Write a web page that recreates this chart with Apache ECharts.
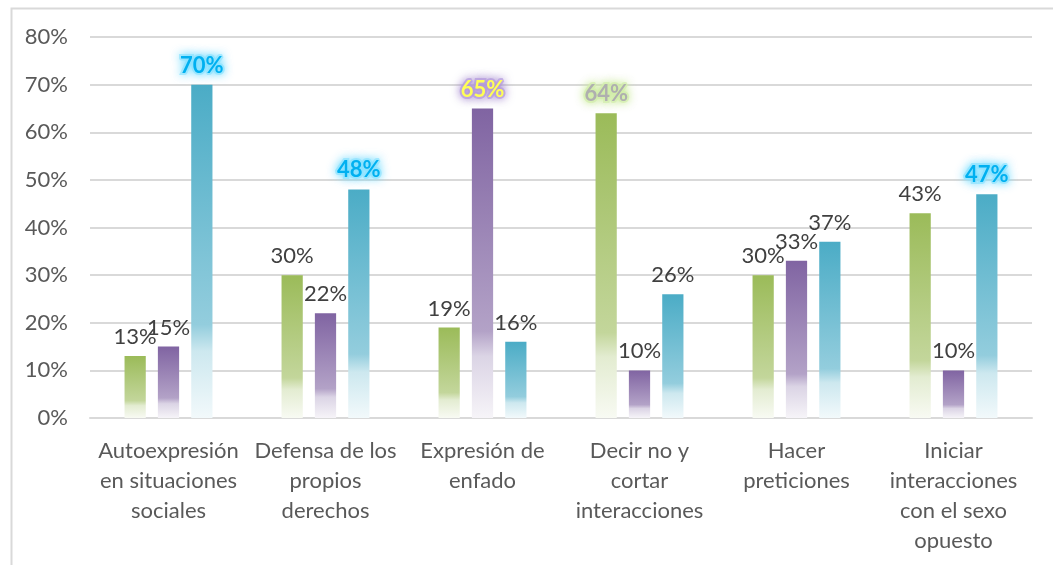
<!DOCTYPE html>
<html>
<head>
<meta charset="utf-8">
<script src="https://cdn.jsdelivr.net/npm/echarts@6/dist/echarts.min.js"></script>
<style>
html,body{margin:0;padding:0;background:#fff;}
#chart{width:1053px;height:565px;}
</style>
</head>
<body>
<div id="chart"></div>
<script>
const categories = [
  "Autoexpresión\nen situaciones\nsociales",
  "Defensa de los\npropios\nderechos",
  "Expresión de\nenfado",
  "Decir no y\ncortar\ninteracciones",
  "Hacer\npreticiones",
  "Iniciar\ninteracciones\ncon el sexo\nopuesto"
];
const seriesGreen = [13, 30, 19, 64, 30, 43];
const seriesPurple = [15, 22, 65, 10, 33, 10];
const seriesBlue = [70, 48, 16, 26, 37, 47];
const yTicks = [0, 10, 20, 30, 40, 50, 60, 70, 80];

// highlighted (glow) labels: [seriesIndex, categoryIndex, style]
const glowBlue = {color:'#00B0F0', fontWeight:'bold', textBorderColor:'rgba(150,230,255,0.75)', textBorderWidth:4, textShadowColor:'#6fdcff', textShadowBlur:10};
const glowPurple = {color:'#FFFF55', fontWeight:'bold', textBorderColor:'rgba(185,160,225,0.75)', textBorderWidth:4, textShadowColor:'#a58ad0', textShadowBlur:10};
const glowGreen = {color:'#AFAFAF', fontWeight:'bold', textBorderColor:'rgba(215,240,180,0.8)', textBorderWidth:4, textShadowColor:'#c8ea95', textShadowBlur:10};
const highlights = [
  [2, 0, glowBlue],
  [2, 1, glowBlue],
  [1, 2, glowPurple],
  [0, 3, glowGreen],
  [2, 5, glowBlue]
];

function mix(hex, t){ // mix with white by t
  const r=parseInt(hex.substr(1,2),16), g=parseInt(hex.substr(3,2),16), b=parseInt(hex.substr(5,2),16);
  const f=v=>Math.round(v+(255-v)*t);
  return 'rgb('+f(r)+','+f(g)+','+f(b)+')';
}
function grad(hex){
  return new echarts.graphic.LinearGradient(0,0,0,1,[
    {offset:0, color:hex},
    {offset:0.72, color:mix(hex,0.4)},
    {offset:0.8, color:mix(hex,0.72)},
    {offset:1, color:mix(hex,0.93)}
  ]);
}

const font = 'Lato, "Open Sans", sans-serif';
const baseLabel = {show:true, position:'top', distance:8, color:'#404040', fontSize:22, fontFamily:font, formatter:'{c}%'};

function buildData(vals, si){
  return vals.map((v,ci)=>{
    const h = highlights.find(x=>x[0]===si && x[1]===ci);
    if(h) return {value:v, label:Object.assign({}, h[2])};
    return v;
  });
}

const colors = ['#9BBB59','#8064A2','#4BACC6'];
const allSeries = [seriesGreen, seriesPurple, seriesBlue].map((vals,si)=>({
  type:'bar',
  data:buildData(vals, si),
  barGap:'57%',
  barCategoryGap:'44%',
  itemStyle:{color:grad(colors[si])},
  label:baseLabel
}));

const chart = echarts.init(document.getElementById('chart'));
chart.setOption({
  animation:false,
  backgroundColor:'#fff',
  grid:{left:90, right:21, top:37, bottom:147},
  xAxis:{
    type:'category',
    data:categories,
    axisLine:{lineStyle:{color:'#d9d9d9', width:2}},
    axisTick:{show:false},
    axisLabel:{color:'#595959', fontSize:22, fontFamily:font, lineHeight:30, margin:18, interval:0}
  },
  yAxis:{
    type:'value',
    min:0, max:80, interval:10,
    axisLine:{show:false},
    axisTick:{show:false},
    splitLine:{lineStyle:{color:'#d9d9d9', width:2}},
    axisLabel:{color:'#595959', fontSize:22, fontFamily:font, margin:22, formatter:'{value}%'}
  },
  graphic:[{
    type:'rect', left:9, top:6, shape:{width:1100, height:600},
    style:{fill:'none', stroke:'#d9d9d9', lineWidth:2}, silent:true
  }],
  series:allSeries
});
</script>
</body>
</html>
